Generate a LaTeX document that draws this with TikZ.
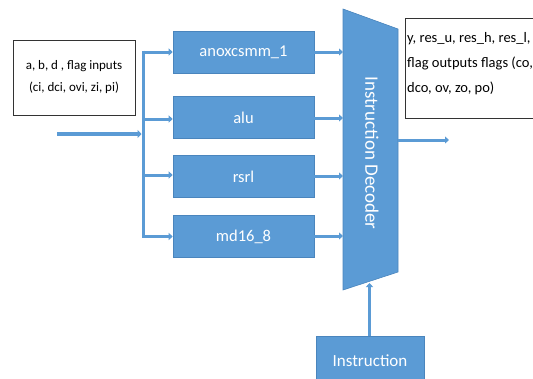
\documentclass[tikz,border=0pt]{standalone}
\usepackage{fontspec}
\setmainfont{Carlito}
\usetikzlibrary{arrows.meta}
\definecolor{blk}{HTML}{5B9BD5}
\definecolor{blkdark}{HTML}{4A85BD}
\tikzset{
  block/.style={draw=blkdark, line width=0.6pt, fill=blk, text=white, minimum width=141pt, minimum height=42pt, inner sep=0pt, font=\fontsize{16.5}{18}\selectfont},
  conn/.style={draw=blk, line width=3pt, -{Triangle[length=4pt,width=7pt]}},
  bus/.style={draw=blk, line width=3pt},
  txtbox/.style={draw=black!80, line width=0.8pt, fill=white, inner sep=0pt}
}
\begin{document}
\begin{tikzpicture}[x=1pt,y=-1pt]
\useasboundingbox (0,0) rectangle (533,378);
% input box
\node[txtbox, minimum width=122pt, minimum height=75pt, align=center, font=\fontsize{13}{22}\selectfont] (inbox) at (74,77.5) {a, b, d , flag inputs\\(ci, dci, ovi, zi, pi)};
% blocks
\node[block] (b1) at (243.5,52) {anoxcsmm\_1};
\node[block] (b2) at (243.5,117.5) {alu};
\node[block] (b3) at (243.5,176.5) {rsrl};
\node[block] (b4) at (243.5,236.5) {md16\_8};
% bus
\coordinate (bt) at (143,50.5);
\coordinate (bb) at (143,238);
\coordinate (j1) at (143,52);
\coordinate (j2) at (143,119);
\coordinate (j3) at (143,175);
\coordinate (j4) at (143,236.5);
\draw[bus] (bt) -- (bb);
\draw[conn] (j1) -- (b1.west |- j1);
\draw[conn] (j2) -- (b2.west |- j2);
\draw[conn] (j3) -- (b3.west |- j3);
\draw[conn] (j4) -- (b4.west |- j4);
% input arrow
\coordinate (ins) at (57,134);
\coordinate (ine) at (141.5,134);
\draw[draw=blk, line width=4.5pt, -{Triangle[length=4pt,width=8pt]}] (ins) -- (ine);
% decoder
\coordinate (dtl) at (343,9);
\coordinate (dtr) at (398,29);
\coordinate (dbr) at (398,272);
\coordinate (dbl) at (343,290);
\draw[draw=blkdark, line width=0.6pt, fill=blk] (dtl) -- (dtr) -- (dbr) -- (dbl) -- cycle;
\node[rotate=-90, text=white, font=\fontsize{19}{21}\selectfont] (dec) at (372,153) {Instruction Decoder};
% block to decoder arrows
\coordinate (d1) at (343,52);
\coordinate (d2) at (343,118);
\coordinate (d3) at (343,176);
\coordinate (d4) at (343,236);
\draw[conn] (b1.east |- d1) -- (d1);
\draw[conn] (b2.east |- d2) -- (d2);
\draw[conn] (b3.east |- d3) -- (d3);
\draw[conn] (b4.east |- d4) -- (d4);
% output box
\node[txtbox, minimum width=135pt, minimum height=100pt, anchor=north west] (outbox) at (405,18) {};
\node[anchor=north west, align=left, inner sep=0pt, font=\fontsize{14.5}{25}\selectfont] (outtxt) at (407,32) {y, res\_u, res\_h, res\_l,\\flag outputs flags (co,\\dco, ov, zo, po)};
% output arrow
\coordinate (os) at (398,140);
\coordinate (oe) at (449,140);
\draw[conn] (os) -- (oe);
% instruction box
\node[block, minimum width=108pt, minimum height=46pt, anchor=north west] (instr) at (316,336) {};
\node[text=white, font=\fontsize{17}{19}\selectfont] (instrtxt) at (370,361) {Instruction};
\coordinate (ia) at (369.5,283);
\draw[conn] (instr.north -| ia) -- (ia);
\end{tikzpicture}
\end{document}
